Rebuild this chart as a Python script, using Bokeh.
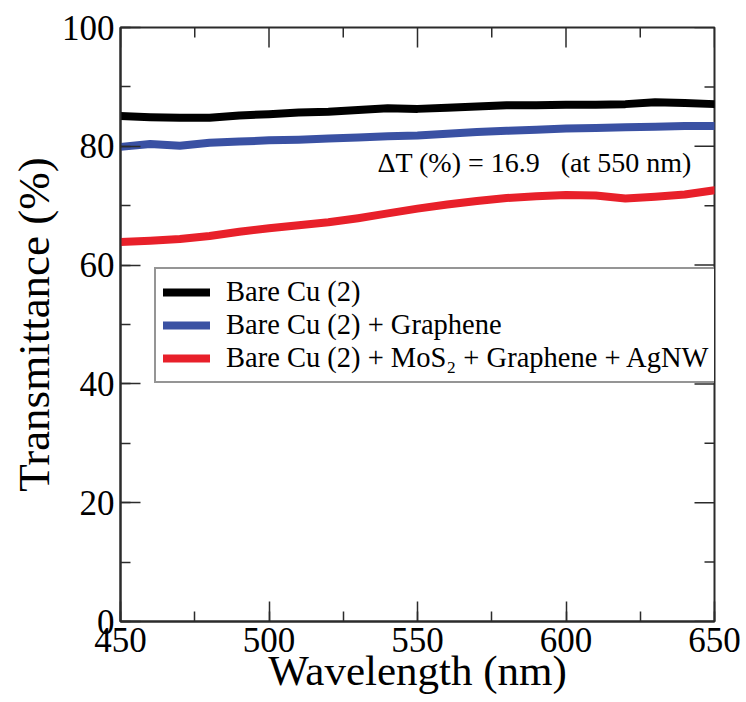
import math
from bokeh.plotting import figure
from bokeh.models import (Range1d, SingleIntervalTicker, Legend, LegendItem, Label)
from bokeh.embed import file_html
from bokeh.resources import INLINE

wavelength = [450, 460, 470, 480, 490, 500, 510, 520, 530, 540, 550,
              560, 570, 580, 590, 600, 610, 620, 630, 640, 650]
bare_cu = [85.1, 84.9, 84.8, 84.8, 85.2, 85.4, 85.7, 85.8, 86.1, 86.4, 86.3,
           86.5, 86.7, 86.9, 86.9, 87.0, 87.0, 87.1, 87.4, 87.3, 87.1]
cu_graphene = [79.9, 80.4, 80.1, 80.6, 80.8, 81.0, 81.1, 81.3, 81.5, 81.7, 81.8,
               82.1, 82.4, 82.6, 82.8, 83.0, 83.1, 83.2, 83.3, 83.4, 83.4]
cu_mos2_graphene_agnw = [63.9, 64.1, 64.4, 64.9, 65.6, 66.2, 66.7, 67.2, 67.9, 68.7, 69.5,
                         70.2, 70.8, 71.3, 71.6, 71.8, 71.7, 71.2, 71.5, 71.9, 72.6]

series_labels = ["Bare Cu (2)", "Bare Cu (2) + Graphene",
                 "Bare Cu (2) + MoS\u2082 + Graphene + AgNW"]
series_colors = ["#000000", "#3a51a3", "#e8202a"]
annotation_text = "\u0394T (%) = 16.9 \u00a0\u00a0(at 550 nm)"

x_major_ticks = [450, 500, 550, 600, 650]
x_minor_ticks = [475, 525, 575, 625]
y_major_ticks = [0, 20, 40, 60, 80, 100]
y_minor_ticks = [10, 30, 50, 70, 90]

FONT = "Liberation Serif"
AX = "#2b2b2b"

p = figure(frame_width=594, frame_height=594,
           min_border_left=120, min_border_right=32, min_border_top=27, min_border_bottom=81,
           x_range=Range1d(450, 650), y_range=Range1d(0, 100),
           output_backend="svg", toolbar_location=None,
           x_axis_label="Wavelength (nm)", y_axis_label="Transmittance (%)")
p.background_fill_color = "white"
p.border_fill_color = "white"
p.grid.visible = False
p.outline_line_color = AX
p.outline_line_width = 2

p.xaxis.ticker = SingleIntervalTicker(interval=50, num_minor_ticks=2)
p.yaxis.ticker = SingleIntervalTicker(interval=20, num_minor_ticks=2)

for ax in (p.xaxis[0], p.yaxis[0]):
    ax.axis_line_color = AX
    ax.axis_line_width = 2
    ax.major_tick_line_color = AX
    ax.minor_tick_line_color = AX
    ax.major_tick_line_width = 1.5
    ax.minor_tick_line_width = 1.5
    ax.major_tick_in = 20
    ax.major_tick_out = 0
    ax.minor_tick_in = 10
    ax.minor_tick_out = 0
    ax.major_label_text_font = FONT
    ax.major_label_text_font_size = "35px"
    ax.major_label_text_color = "black"
    ax.axis_label_text_font = FONT
    ax.axis_label_text_font_style = "normal"
    ax.axis_label_text_color = "black"

p.xaxis.axis_label_text_font_size = "43px"
p.yaxis.axis_label_text_font_size = "45px"
p.xaxis.major_label_standoff = 6
p.yaxis.major_label_standoff = 6
p.xaxis.axis_label_standoff = -8
p.yaxis.axis_label_standoff = 0

# mirrored inward ticks on the top and right edges (clipped to the frame)
p.scatter([650] * len(y_major_ticks), y_major_ticks, marker="dash", size=40,
          line_color=AX, line_width=1.5)
p.scatter([650] * len(y_minor_ticks), y_minor_ticks, marker="dash", size=20,
          line_color=AX, line_width=1.5)
p.scatter(x_major_ticks, [100] * len(x_major_ticks), marker="dash", size=40,
          angle=math.pi / 2, line_color=AX, line_width=1.5)
p.scatter(x_minor_ticks, [100] * len(x_minor_ticks), marker="dash", size=20,
          angle=math.pi / 2, line_color=AX, line_width=1.5)

series = [bare_cu, cu_graphene, cu_mos2_graphene_agnw]
renderers = []
for vals, col in zip(series, series_colors):
    r = p.line(wavelength, vals, line_color=col, line_width=8, line_cap="round", line_join="round")
    renderers.append(r)

legend = Legend(items=[LegendItem(label=lab, renderers=[r]) for lab, r in zip(series_labels, renderers)],
                location=(34, 238))
legend.label_text_font = FONT
legend.label_text_font_size = "28.5px"
legend.label_text_color = "black"
legend.glyph_width = 47
legend.glyph_height = 28
legend.label_height = 28
legend.label_standoff = 16
legend.spacing = 1
legend.padding = 7
legend.margin = 0
legend.border_line_color = AX
legend.border_line_width = 2
legend.background_fill_alpha = 1
p.add_layout(legend, "center")

lab = Label(x=536.5, y=77.3, text=annotation_text, text_font=FONT, text_font_size="28px",
            text_baseline="middle", text_align="left", text_color="black")
p.add_layout(lab)

open("out.html", "w").write(file_html(p, INLINE))
